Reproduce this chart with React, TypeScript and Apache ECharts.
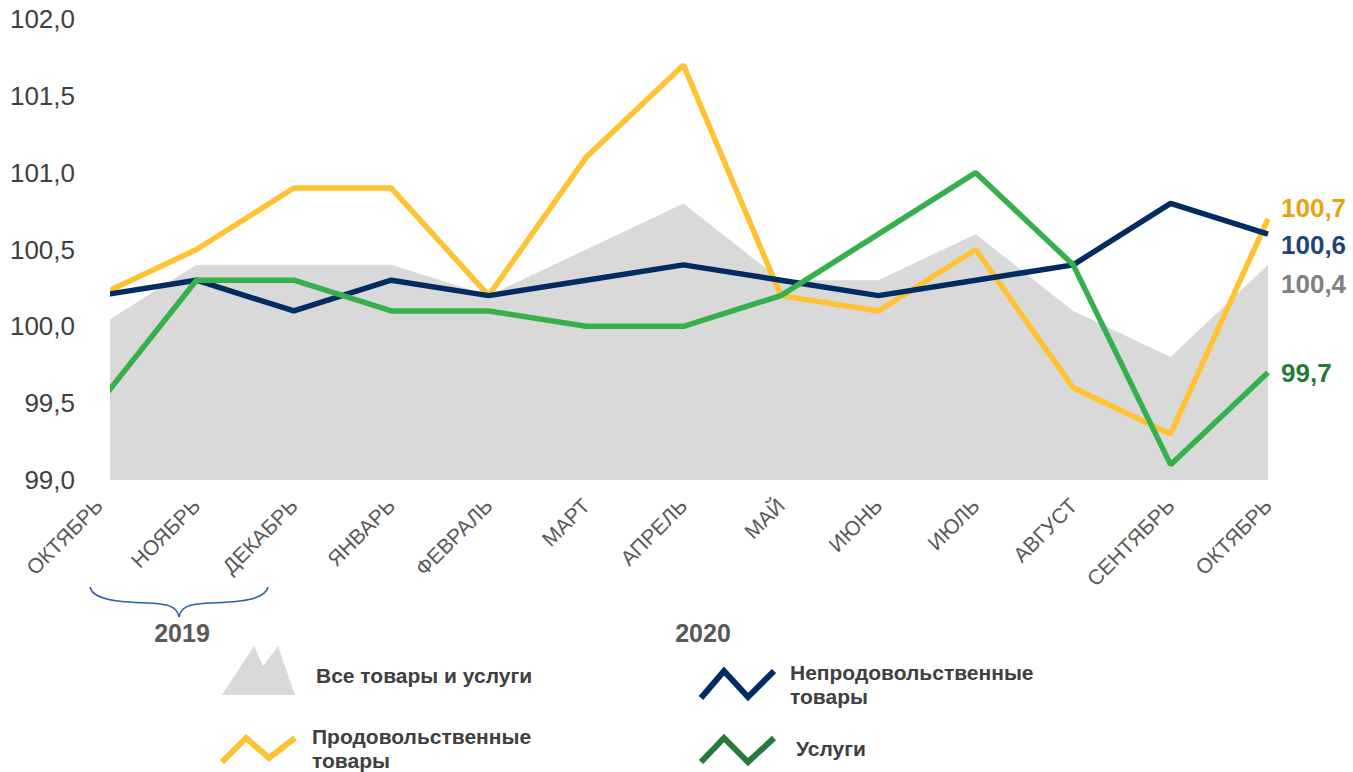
import React, { useEffect, useRef } from "react";
import * as echarts from "echarts";

const categories = ["ОКТЯБРЬ", "НОЯБРЬ", "ДЕКАБРЬ", "ЯНВАРЬ", "ФЕВРАЛЬ", "МАРТ", "АПРЕЛЬ", "МАЙ", "ИЮНЬ", "ИЮЛЬ", "АВГУСТ", "СЕНТЯБРЬ", "ОКТЯБРЬ"];
const allGoods = [100.0, 100.4, 100.4, 100.4, 100.2, 100.5, 100.8, 100.3, 100.3, 100.6, 100.1, 99.8, 100.4];
const foodGoods = [100.2, 100.5, 100.9, 100.9, 100.2, 101.1, 101.7, 100.2, 100.1, 100.5, 99.6, 99.3, 100.7];
const nonFoodGoods = [100.2, 100.3, 100.1, 100.3, 100.2, 100.3, 100.4, 100.3, 100.2, 100.3, 100.4, 100.8, 100.6];
const services = [99.5, 100.3, 100.3, 100.1, 100.1, 100.0, 100.0, 100.2, 100.6, 101.0, 100.4, 99.1, 99.7];
const yTicks = { min: 99, max: 102, interval: 0.5 };
const yearLabels = ["2019", "2020"];
const legendNames = ["Все товары и услуги", "Продовольственные\nтовары", "Непродовольственные\nтовары", "Услуги"];

const FONT = "'Liberation Sans', Arial, sans-serif";
const C_AREA = "#D9D9D9";
const C_FOOD = "#FFC232";
const C_NONFOOD = "#002C61";
const C_SERV = "#36B04D";

const fmt = (v: number) => v.toFixed(1).replace(".", ",");

export default function App() {
  const ref = useRef<HTMLDivElement>(null);
  useEffect(() => {
    if (!ref.current) return;
    const chart = echarts.init(ref.current, undefined, { renderer: "svg" });
    const last = (a: number[]) => a[a.length - 1];
    const legendText = (x: number, y: number, text: string) => ({
      type: "text",
      x,
      y,
      style: { text, font: `bold 21px ${FONT}`, fill: "#404040", textVerticalAlign: "middle", lineHeight: 24 },
    });
    const zig = (pts: number[][], color: string) => ({
      type: "polyline",
      shape: { points: pts },
      style: { stroke: color, lineWidth: 6, fill: "none" },
    });
    chart.setOption({
      animation: false,
      backgroundColor: "#ffffff",
      grid: { left: 99, right: 85, top: 19, bottom: 292, containLabel: false },
      xAxis: {
        type: "category",
        data: categories,
        boundaryGap: false,
        axisLine: { show: false },
        axisTick: { show: false },
        splitLine: { show: false },
        axisLabel: { rotate: 45, fontSize: 21, fontFamily: FONT, color: "#595959", margin: 22, interval: 0 },
      },
      yAxis: {
        type: "value",
        min: yTicks.min,
        max: yTicks.max,
        interval: yTicks.interval,
        axisLine: { show: false },
        axisTick: { show: false },
        splitLine: { show: false },
        axisLabel: { fontSize: 26, fontFamily: FONT, color: "#404040", margin: 24, formatter: (v: number) => fmt(v) },
      },
      series: [
        { name: "all", type: "line", data: allGoods, symbol: "none", lineStyle: { width: 0 }, areaStyle: { color: C_AREA, opacity: 1 }, z: 1 },
        { name: "food", type: "line", data: foodGoods, symbol: "none", lineStyle: { width: 5.5, color: C_FOOD }, z: 2 },
        { name: "nonfood", type: "line", data: nonFoodGoods, symbol: "none", lineStyle: { width: 5.5, color: C_NONFOOD }, z: 3 },
        { name: "serv", type: "line", data: services, symbol: "none", lineStyle: { width: 5.5, color: C_SERV }, z: 4 },
      ],
      graphic: [
        { type: "rect", z: 100, shape: { x: 86, y: 0, width: 24, height: 486 }, style: { fill: "#ffffff" } },
        { type: "text", x: 1281, y: 208, style: { text: fmt(last(foodGoods)), font: `bold 26px ${FONT}`, fill: "#E4A60C", textVerticalAlign: "middle" } },
        { type: "text", x: 1281, y: 245, style: { text: fmt(last(nonFoodGoods)), font: `bold 26px ${FONT}`, fill: "#1F4476", textVerticalAlign: "middle" } },
        { type: "text", x: 1281, y: 284, style: { text: fmt(last(allGoods)), font: `bold 26px ${FONT}`, fill: "#808080", textVerticalAlign: "middle" } },
        { type: "text", x: 1281, y: 373, style: { text: fmt(last(services)), font: `bold 26px ${FONT}`, fill: "#267A3A", textVerticalAlign: "middle" } },
        // brace
        { type: "bezierCurve", shape: { x1: 90, y1: 587, cpx1: 93, cpy1: 600, cpx2: 118, cpy2: 602, x2: 148, y2: 603 }, style: { stroke: "#2F5FA8", lineWidth: 1.6, fill: "none" } },
        { type: "bezierCurve", shape: { x1: 148, y1: 603, cpx1: 170, cpy1: 604, cpx2: 177, cpy2: 607, x2: 179, y2: 617 }, style: { stroke: "#2F5FA8", lineWidth: 1.6, fill: "none" } },
        { type: "bezierCurve", shape: { x1: 179, y1: 617, cpx1: 181, cpy1: 607, cpx2: 188, cpy2: 604, x2: 210, y2: 603 }, style: { stroke: "#2F5FA8", lineWidth: 1.6, fill: "none" } },
        { type: "bezierCurve", shape: { x1: 210, y1: 603, cpx1: 240, cpy1: 602, cpx2: 265, cpy2: 600, x2: 268, y2: 587 }, style: { stroke: "#2F5FA8", lineWidth: 1.6, fill: "none" } },
        { type: "text", x: 182, y: 633, style: { text: yearLabels[0], font: `bold 25px ${FONT}`, fill: "#595959", textAlign: "center", textVerticalAlign: "middle" } },
        { type: "text", x: 703, y: 633, style: { text: yearLabels[1], font: `bold 25px ${FONT}`, fill: "#595959", textAlign: "center", textVerticalAlign: "middle" } },
        // legend icons
        { type: "polygon", shape: { points: [[222, 695], [254, 646], [263, 666], [278, 646], [295, 695]] }, style: { fill: C_AREA } },
        zig([[222, 762], [246, 738], [269, 758], [295, 738]], C_FOOD),
        zig([[701, 698], [724, 671], [748, 697], [774, 671]], C_NONFOOD),
        zig([[701, 762], [724, 738], [748, 762], [774, 738]], "#267A3A"),
        legendText(316, 675, legendNames[0]),
        legendText(312, 748, legendNames[1]),
        legendText(790, 684, legendNames[2]),
        legendText(796, 748, legendNames[3]),
      ],
    });
    return () => chart.dispose();
  }, []);
  return <div ref={ref} style={{ position: "fixed", left: 0, top: 0, width: 1353, height: 772 }} />;
}
